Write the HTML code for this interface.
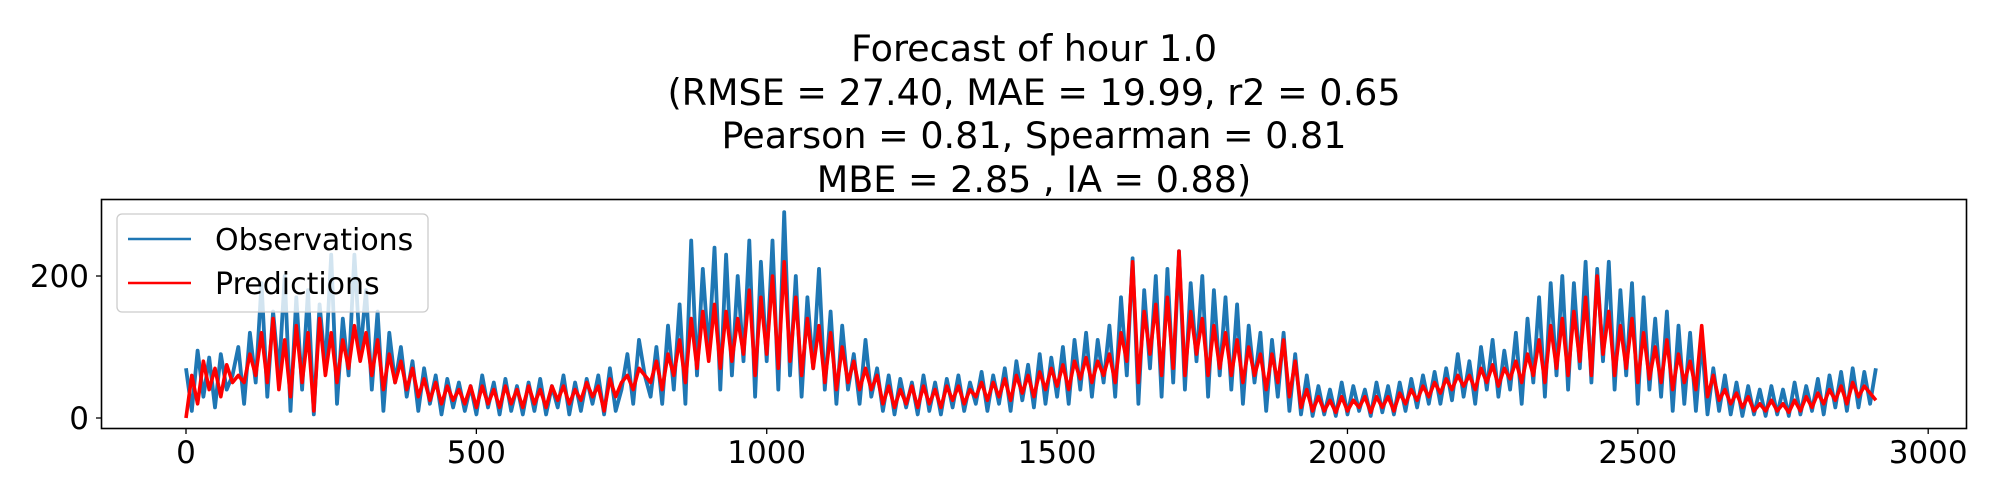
<!DOCTYPE html>
<html><head><meta charset="utf-8"><style>
html,body{margin:0;padding:0;background:#fff;}
svg{display:block;font-family:"DejaVu Sans","Liberation Sans",sans-serif;}
</style></head><body>
<svg id="chart" width="2000" height="500" viewBox="0 0 2000 500" xmlns="http://www.w3.org/2000/svg">
<g font-size="36.5" text-anchor="middle" fill="#000">
<text x="1034" y="61">Forecast of hour 1.0</text>
<text x="1034" y="105">(RMSE = 27.40, MAE = 19.99, r2 = 0.65</text>
<text x="1034" y="148">Pearson = 0.81, Spearman = 0.81</text>
<text x="1034" y="192">MBE = 2.85 , IA = 0.88)</text>
</g>
<g id="ticks"></g>
<g id="plot"></g>
<rect x="101.5" y="199.5" width="1865" height="229" fill="none" stroke="#000" stroke-width="1.6"/>
<g>
<rect x="117" y="214" width="311" height="98" rx="5" fill="#fff" fill-opacity="0.8" stroke="#ccc" stroke-width="1.3"/>
<line x1="128" y1="239" x2="191" y2="239" stroke="#1f77b4" stroke-width="2.5"/>
<text x="215" y="250" font-size="30">Observations</text>
<line x1="128" y1="283" x2="191" y2="283" stroke="#ff0000" stroke-width="2.5"/>
<text x="215" y="294" font-size="30">Predictions</text>
</g>
</svg>
<script>
const step = 10;
const observations = [70,10,95,30,85,15,90,40,60,100,
20,120,50,190,30,150,60,200,10,170,
40,180,5,160,70,230,20,140,60,230,
90,180,40,150,10,120,50,100,30,80,
10,70,20,60,5,55,15,50,10,45,
5,60,15,50,5,55,10,45,5,50,
10,55,5,45,15,60,5,50,10,55,
20,60,5,70,10,40,90,20,110,60,
30,100,20,130,40,160,20,250,60,210,
90,240,40,230,60,200,80,250,30,220,
80,250,40,290,60,200,30,170,70,210,
40,150,20,130,40,90,20,110,30,70,
10,60,5,55,15,50,5,60,10,50,
5,55,15,60,10,50,20,65,10,60,
20,70,10,80,25,75,15,90,20,85,
30,100,20,110,40,120,30,110,50,130,
30,170,60,225,20,180,70,200,30,210,
50,235,40,190,80,200,30,180,60,170,
40,160,20,130,50,120,10,110,30,120,
10,90,5,60,3,45,5,40,3,50,
5,45,10,40,3,50,8,45,5,50,
10,55,15,60,20,65,20,70,25,90,
30,80,20,100,40,110,30,95,40,120,
20,140,50,170,30,190,60,200,40,190,
70,220,50,210,80,220,40,180,60,190,
20,170,40,140,30,150,10,130,20,120,
10,110,5,70,10,60,5,50,3,45,
5,40,3,45,5,40,3,50,5,45,
10,55,5,60,15,65,10,70,15,65,
20,70];
const predictions = [0,60,20,80,40,70,30,75,50,60,
50,90,60,120,50,140,40,110,30,130,
50,120,10,140,60,120,50,110,70,130,
80,120,60,110,40,90,50,80,40,70,
30,55,25,50,20,45,25,40,20,45,
15,45,20,40,15,45,20,40,15,45,
20,40,15,45,25,45,20,40,25,50,
30,45,10,55,30,50,60,40,70,60,
50,80,40,90,60,110,50,140,70,150,
80,160,70,150,80,140,90,180,60,170,
90,200,70,220,80,170,60,140,70,130,
50,120,40,100,50,80,40,70,40,60,
20,45,15,40,20,45,15,45,20,40,
15,45,25,45,20,40,30,50,25,50,
30,55,25,60,35,60,30,65,40,70,
45,75,40,80,55,85,50,80,60,90,
50,120,80,220,50,150,90,160,60,170,
70,235,60,150,90,140,60,130,70,120,
60,110,50,100,60,90,40,90,50,110,
30,80,15,40,10,30,10,25,8,30,
10,25,15,30,8,30,15,30,10,35,
20,40,25,45,30,50,35,55,40,60,
45,60,40,70,50,75,45,70,55,80,
50,90,60,110,50,130,70,140,60,150,
80,170,60,200,90,150,60,130,70,140,
50,120,55,100,50,110,40,90,50,80,
40,130,30,60,25,40,20,35,15,30,
10,20,10,25,10,20,8,25,10,30,
15,35,20,40,25,45,20,50,30,45,
35,25];
const xTicks = [0,500,1000,1500,2000,2500,3000];
const yTicks = [0,200];

const NS = "http://www.w3.org/2000/svg";
function xs(v){ return 186 + v * 0.58073; }
function ys(v){ return 418 - v * 0.71; }

const plot = document.getElementById('plot');
function drawSeries(vals, color, w, name){
  const pts = vals.map((v,i)=> xs(i*step).toFixed(1)+','+ys(v).toFixed(1)).join(' ');
  const pl = document.createElementNS(NS,'polyline');
  pl.setAttribute('points', pts);
  pl.setAttribute('fill','none');
  pl.setAttribute('stroke',color);
  pl.setAttribute('stroke-width',w);
  pl.setAttribute('stroke-linejoin','round');
  
  
  plot.appendChild(pl);
}
drawSeries(observations,'#1f77b4',3.8,'observations-line');
drawSeries(predictions,'#ff0000',3.6,'predictions-line');

const ticks = document.getElementById('ticks');
xTicks.forEach(t=>{
  const x = xs(t);
  const l = document.createElementNS(NS,'line');
  l.setAttribute('x1',x); l.setAttribute('x2',x);
  l.setAttribute('y1',428.5); l.setAttribute('y2',434);
  l.setAttribute('stroke','#000'); l.setAttribute('stroke-width','1.3');
  
  
  ticks.appendChild(l);
  const tx = document.createElementNS(NS,'text');
  tx.setAttribute('x',x); tx.setAttribute('y',463);
  tx.setAttribute('text-anchor','middle'); tx.setAttribute('font-size','31');
  tx.textContent = t;
  
  
  ticks.appendChild(tx);
});
yTicks.forEach(t=>{
  const y = ys(t);
  const l = document.createElementNS(NS,'line');
  l.setAttribute('x1',96); l.setAttribute('x2',101.5);
  l.setAttribute('y1',y); l.setAttribute('y2',y);
  l.setAttribute('stroke','#000'); l.setAttribute('stroke-width','1.3');
  
  
  ticks.appendChild(l);
  const tx = document.createElementNS(NS,'text');
  tx.setAttribute('x',89); tx.setAttribute('y',y+11);
  tx.setAttribute('text-anchor','end'); tx.setAttribute('font-size','31');
  tx.textContent = t;
  
  
  ticks.appendChild(tx);
});
</script>
</body></html>
